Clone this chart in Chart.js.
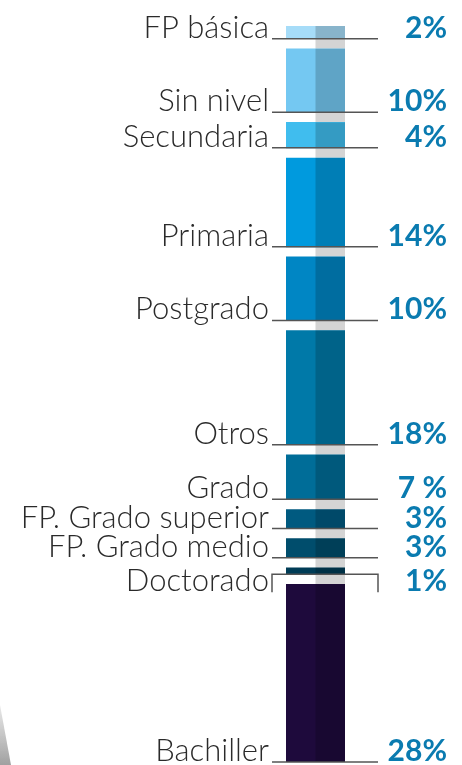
<!DOCTYPE html>
<html>
<head>
<meta charset="utf-8">
<script src="https://cdn.jsdelivr.net/npm/chart.js@4.4.0/dist/chart.umd.min.js"></script>
<style>
  html, body { margin: 0; padding: 0; background: #ffffff; }
  #wrap { width: 462px; height: 765px; position: relative; }
</style>
</head>
<body>
<div id="wrap"><canvas id="grafico" width="462" height="765"></canvas></div>
<script>
// Datos (de arriba a abajo)
const categorias = ['FP básica', 'Sin nivel', 'Secundaria', 'Primaria', 'Postgrado', 'Otros',
  'Grado', 'FP. Grado superior', 'FP. Grado medio', 'Doctorado', 'Bachiller'];
const valores = [2, 10, 4, 14, 10, 18, 7, 3, 3, 1, 28];
const etiquetasPct = ['2%', '10%', '4%', '14%', '10%', '18%', '7 %', '3%', '3%', '1%', '28%'];
const coloresSegmento = ['#a6dcf8', '#74c8f2', '#40bdee', '#009ade', '#0086c4', '#0079a8',
  '#006d98', '#005a80', '#004d6c', '#003c56', '#1e0a3c'];

const hueco = 1.6; // separación entre segmentos, en unidades de la escala

// Rangos flotantes [inicio, fin] de cada segmento
let acumulado = 0;
const rangos = valores.map(function (v, i) {
  const ini = acumulado;
  acumulado += v;
  const r = [ini, acumulado];
  acumulado += hueco;
  return r;
});
const total = acumulado - hueco;

const datasets = categorias.map(function (c, i) {
  return {
    label: c,
    data: [rangos[i]],
    backgroundColor: coloresSegmento[i],
    borderWidth: 0,
    barPercentage: 1,
    categoryPercentage: 1,
    grouped: false
  };
});

// Franja gris detrás de la mitad derecha
const franjaPlugin = {
  id: 'franja',
  beforeDatasetsDraw(chart) {
    const ctx = chart.ctx;
    const area = chart.chartArea;
    const el = chart.getDatasetMeta(0).data[0];
    const mitad = el.x;
    const der = el.x + el.width / 2;
    ctx.save();
    ctx.fillStyle = '#d4d4d4';
    ctx.fillRect(mitad, area.top, der - mitad, area.bottom - area.top);
    // cuña gris decorativa abajo a la izquierda
    const grad = ctx.createLinearGradient(0, 700, 0, 765);
    grad.addColorStop(0, 'rgba(170,170,170,0.2)');
    grad.addColorStop(1, 'rgba(160,160,160,1)');
    ctx.fillStyle = grad;
    ctx.beginPath();
    ctx.moveTo(0, 705);
    ctx.lineTo(11, 765);
    ctx.lineTo(0, 765);
    ctx.closePath();
    ctx.fill();
    ctx.restore();
  }
};

// Sombra de la mitad derecha, líneas y textos
const etiquetasPlugin = {
  id: 'etiquetas',
  afterDatasetsDraw(chart) {
    const ctx = chart.ctx;
    ctx.save();
    chart.data.datasets.forEach(function (ds, i) {
      const el = chart.getDatasetMeta(i).data[0];
      const arriba = Math.min(el.y, el.base);
      const abajo = Math.max(el.y, el.base);
      const der = el.x + el.width / 2;
      const izq = el.x - el.width / 2;
      ctx.fillStyle = 'rgba(0,0,0,0.18)';
      ctx.fillRect(el.x, arriba, der - el.x, abajo - arriba);

      const x1 = izq - 14;
      const x2 = der + 33;
      let base = abajo;
      ctx.strokeStyle = '#555555';
      ctx.lineWidth = 1.5;
      ctx.beginPath();
      if (categorias[i] === 'Doctorado') {
        ctx.moveTo(x1, abajo + 18);
        ctx.lineTo(x1, abajo);
        ctx.lineTo(x2, abajo);
        ctx.lineTo(x2, abajo + 18);
        base = abajo + 18;
      } else {
        ctx.moveTo(x1, abajo);
        ctx.lineTo(x2, abajo);
      }
      ctx.stroke();

      ctx.textBaseline = 'alphabetic';
      ctx.textAlign = 'right';
      ctx.fillStyle = '#2a2a2a';
      ctx.font = '300 31px Lato';
      ctx.fillText(categorias[i], x1 - 3, base - 1);

      ctx.fillStyle = '#0a7bb0';
      ctx.font = '700 30px Lato';
      ctx.fillText(etiquetasPct[i], 447, base - 1);
    });
    ctx.restore();
  }
};

new Chart(document.getElementById('grafico'), {
  type: 'bar',
  data: { labels: [''], datasets: datasets },
  options: {
    responsive: false,
    animation: false,
    layout: { padding: { left: 286, right: 117, top: 26, bottom: 3 } },
    plugins: { legend: { display: false }, tooltip: { enabled: false } },
    scales: {
      x: { display: false, stacked: false },
      y: { display: false, min: 0, max: total, reverse: true }
    }
  },
  plugins: [franjaPlugin, etiquetasPlugin]
});
</script>
</body>
</html>
